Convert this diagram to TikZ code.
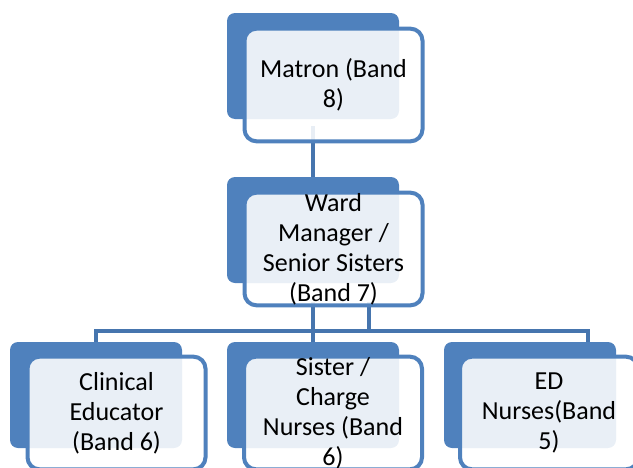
\documentclass[tikz,border=0pt]{standalone}
\usepackage{fontspec}
\setmainfont{Carlito}
\definecolor{chartblue}{HTML}{4F81BD}
\definecolor{linkblue}{HTML}{4675AE}
\begin{document}
\begin{tikzpicture}[x=0.75pt,y=-0.75pt,
    back/.style={fill=chartblue,rounded corners=6pt,minimum width=129pt,minimum height=79.5pt,inner sep=0pt},
    card/.style={draw=chartblue,line width=3pt,fill=white,fill opacity=.88,rounded corners=9pt,minimum width=133.5pt,minimum height=84.5pt,inner sep=0pt},
    txt/.style={align=center,inner sep=0pt,font=\fontsize{19.5}{22.5}\selectfont},
    link/.style={draw=linkblue,line width=3pt}]
    \useasboundingbox (0,0) rectangle (633,468);
    \node[back] (mtrback) at (313,66) {};
    \node[back] (wmback) at (313,230) {};
    \node[back] (ceback) at (96,395) {};
    \node[back] (cnback) at (313,395) {};
    \node[back] (edback) at (530,395) {};
    \coordinate (split) at (369,331);
    \draw[link] ([yshift=-5pt]mtrback.south) -- (wmback.north);
    \draw[link] ([yshift=-14pt]wmback.south) -- (cnback.north);
    \draw[link] ([xshift=42pt,yshift=-14pt]wmback.south) -- (split);
    \draw[link] (ceback.north) |- (split);
    \draw[link] (split) -| ([xshift=43.5pt]edback.north);
    \node[card] (mtrcard) at (333.5,85) {};
    \node[card] (wmcard) at (333.5,249) {};
    \node[card] (cecard) at (116.5,413) {};
    \node[card] (cncard) at (333,413) {};
    \node[card] (edcard) at (549,413) {};
    \node[txt] (mtr) at (mtrcard) {Matron (Band\\8)};
    \node[txt] (wm) at (wmcard) {Ward\\Manager /\\Senior Sisters\\(Band 7)};
    \node[txt] (ce) at (cecard) {Clinical\\Educator\\(Band 6)};
    \node[txt] (cn) at (cncard) {Sister /\\Charge\\Nurses (Band\\6)};
    \node[txt] (ed) at (edcard) {ED\\Nurses(Band\\5)};
\end{tikzpicture}
\end{document}
